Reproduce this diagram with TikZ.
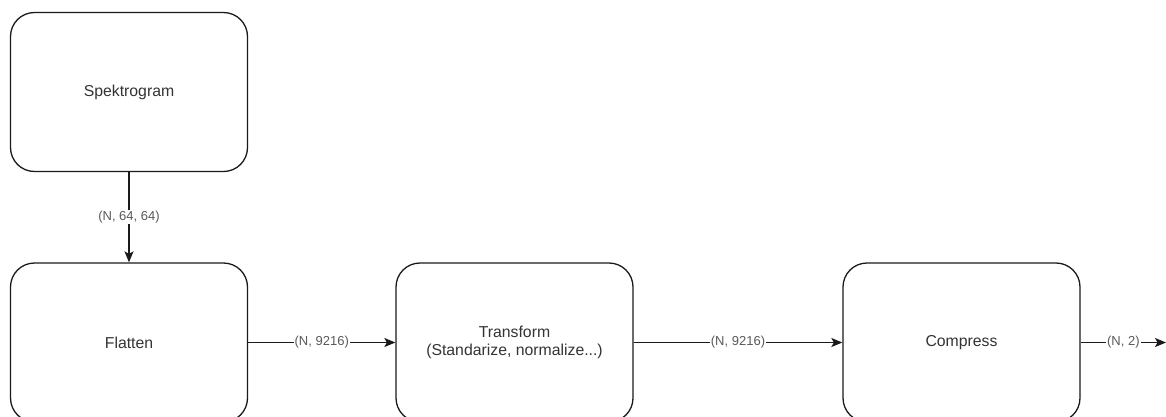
\documentclass[tikz,border=0pt]{standalone}
\usepackage{fontspec}
\setmainfont{Liberation Sans}
\usetikzlibrary{arrows.meta}
\definecolor{boxtext}{HTML}{333333}
\definecolor{labeltext}{HTML}{5A5A5A}
\definecolor{linecol}{HTML}{1A1A1A}
\begin{document}
\begin{tikzpicture}[x=1pt,y=-1pt,
  blockbox/.style={draw=linecol, line width=1.3pt, rounded corners=24pt,
    minimum width=237pt, minimum height=159pt, inner sep=0pt, align=center,
    text=boxtext, font=\fontsize{15.8}{18.2}\selectfont},
  conn/.style={draw=linecol, line width=1.3pt,
    -{Stealth[length=11pt,width=9pt,inset=2.5pt]}},
  lbl/.style={fill=white, text=labeltext, inner sep=1pt,
    font=\fontsize{13}{15}\selectfont}
]
\useasboundingbox (0,0) rectangle (1166,416);
\node[blockbox] (spek) at (129,92) {Spektrogram};
\node[blockbox] (flat) at (129,342.5) {Flatten};
\node[blockbox] (trans) at (514.5,342.5) {Transform\\(Standarize, normalize...)};
\node[blockbox] (comp) at (961.5,342.5) {Compress};
\coordinate (out) at (1166,342.5);
\draw[conn] (spek) -- node[lbl, midway] {(N, 64, 64)} (flat);
\draw[conn] (flat) -- node[lbl, midway] {(N, 9216)} (trans);
\draw[conn] (trans) -- node[lbl, midway] {(N, 9216)} (comp);
\draw[conn] (comp) -- node[lbl, midway] {(N, 2)} (out);
\end{tikzpicture}
\end{document}
